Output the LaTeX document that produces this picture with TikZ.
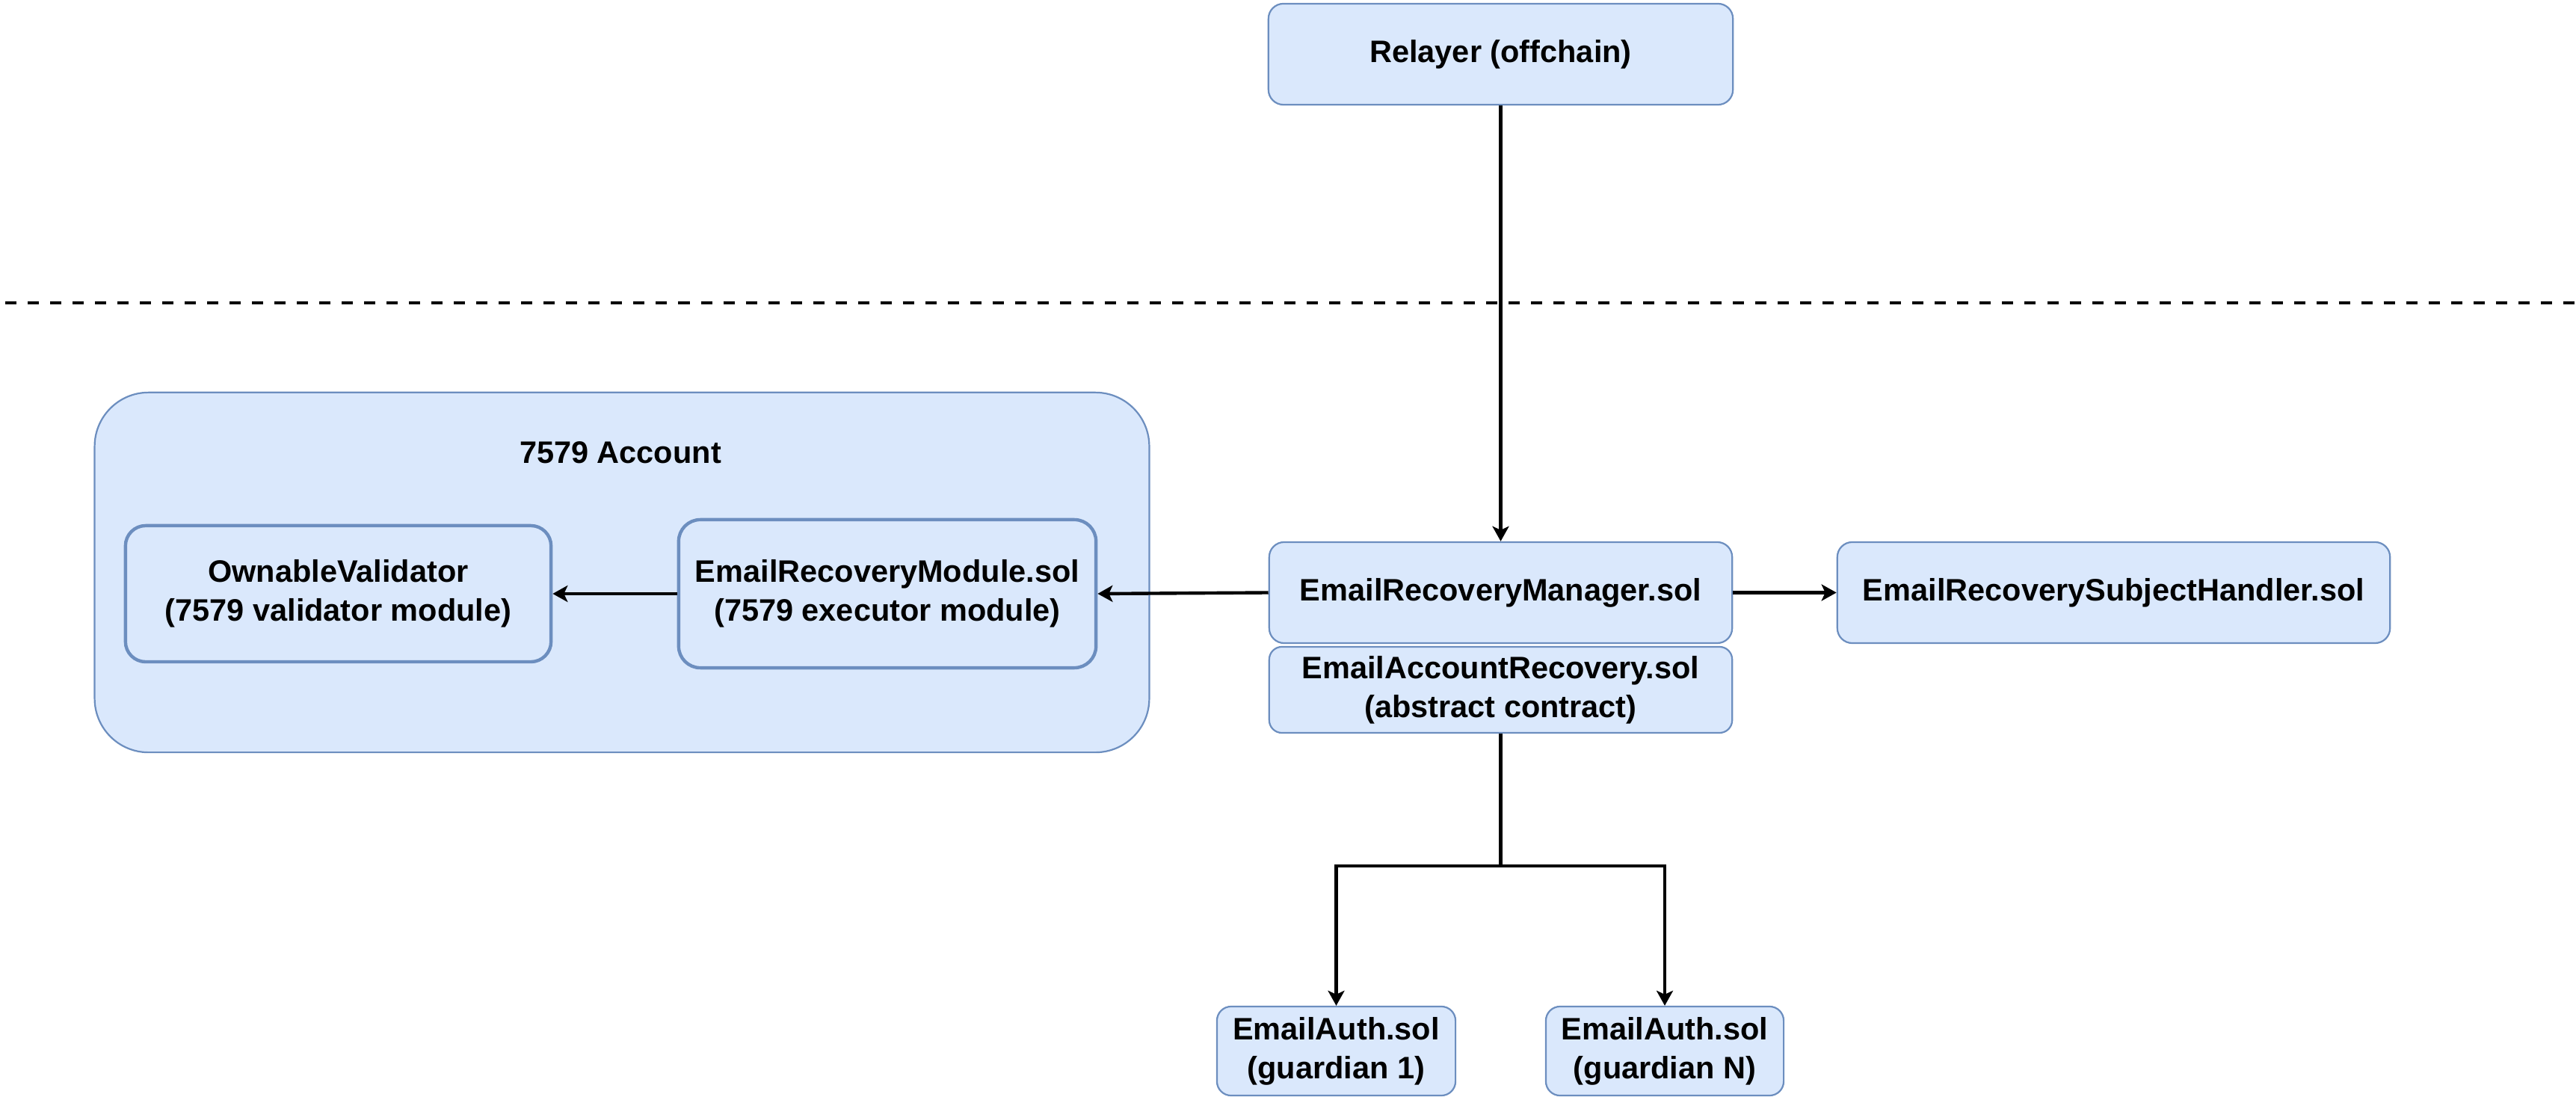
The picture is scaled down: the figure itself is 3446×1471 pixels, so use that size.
\documentclass[tikz,border=0pt]{standalone}
\usepackage{fontspec}
\setmainfont{Liberation Sans}
\usetikzlibrary{arrows.meta}
\definecolor{boxfill}{HTML}{DAE8FC}
\definecolor{boxline}{HTML}{6C8EBF}
\tikzset{
  px/.style={x=0.01cm,y=-0.01cm},
  box/.style={draw=boxline, fill=boxfill, line width=0.63pt, inner sep=0pt,
    align=center, font=\fontsize{11.8}{14.8}\selectfont\bfseries},
  thickbox/.style={box, line width=1.25pt},
  conn/.style={line width=1.25pt, -{Stealth[length=0.2cm,width=0.22cm,inset=0.05cm]}},
  plain/.style={line width=1.25pt},
  sep/.style={line width=1.25pt, dash pattern=on 0.15cm off 0.15cm},
  lbl/.style={font=\fontsize{11.8}{14.8}\selectfont\bfseries}
}
\begin{document}
\begin{tikzpicture}[px]
\useasboundingbox (0,0) rectangle (3446,1471);
% separator
\coordinate (dl) at (7,405);
\coordinate (dr) at (3446,405);
\draw[sep] (dl) -- (dr);
% container
\node[box, minimum width=14.10cm, minimum height=4.81cm, rounded corners=0.72cm] (acct) at (832,765.5) {};
\node[lbl] (acctt) at (830,605) {7579 Account};
% boxes
\node[box, minimum width=6.21cm, minimum height=1.35cm, rounded corners=0.2cm] (relayer) at (2007.5,72.5) {Relayer (offchain)};
\node[thickbox, minimum width=5.69cm, minimum height=1.82cm, rounded corners=0.27cm] (ownable) at (452.5,794) {OwnableValidator\\(7579 validator module)};
\node[thickbox, minimum width=5.58cm, minimum height=1.98cm, rounded corners=0.29cm] (module) at (1187,794) {EmailRecoveryModule.sol\\(7579 executor module)};
\node[box, minimum width=6.19cm, minimum height=1.35cm, rounded corners=0.2cm] (manager) at (2007.5,792.5) {EmailRecoveryManager.sol};
\node[box, minimum width=7.39cm, minimum height=1.35cm, rounded corners=0.2cm] (subject) at (2827.5,792.5) {EmailRecoverySubjectHandler.sol};
\node[box, minimum width=6.19cm, minimum height=1.15cm, rounded corners=0.17cm] (accrec) at (2007.5,922.5) {EmailAccountRecovery.sol\\(abstract contract)};
\node[box, minimum width=3.19cm, minimum height=1.19cm, rounded corners=0.19cm] (ea1) at (1787.5,1405.5) {EmailAuth.sol\\(guardian 1)};
\node[box, minimum width=3.18cm, minimum height=1.19cm, rounded corners=0.19cm] (eaN) at (2227,1405.5) {EmailAuth.sol\\(guardian N)};
% connectors
\draw[conn] (relayer.south) -- (manager.north);
\draw[conn] (manager.west) -- (module.east);
\draw[conn] (module.west) -- (ownable.east);
\draw[conn] (manager.east) -- (subject.west);
\coordinate (jn) at (2007.5,1158);
\draw[plain] (accrec.south) -- (jn);
\draw[conn] (jn) -| (ea1.north);
\draw[conn] (jn) -| (eaN.north);
\end{tikzpicture}
\end{document}
